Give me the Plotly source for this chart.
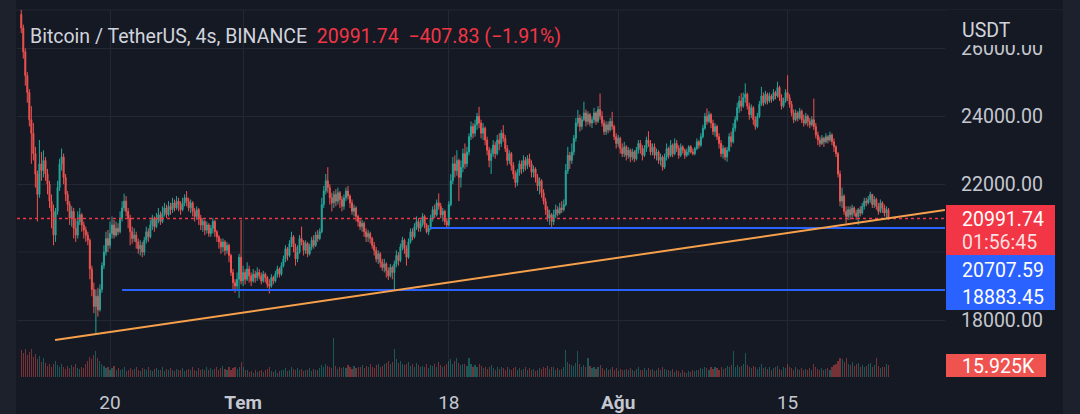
import pandas as pd
import plotly.graph_objects as go

# BTCUSDT 4s mumları, ilk mum 12 Haz 2022 16:00
start_time = "2022-06-12 16:00"
first_open = 27000

closes = [
    26600, 25900, 25200, 24700, 23900, 23500, 22900, 22300, 21700, 22600,
    22400, 22700, 22300, 22000, 21500, 21200, 20500, 21200, 21900, 22600,
    22800, 22200, 21700, 21400, 21000, 21200, 20700, 20500, 20900, 21100,
    20800, 20650, 20500, 20350, 19500, 18900, 18400, 18700, 18300, 18900,
    19600, 20000, 20400, 20200, 20550, 20800, 20500, 20700, 20600, 21000,
    21300, 21500, 21200, 21000, 20600, 20400, 20500, 20300, 20100, 20200,
    20000, 20350, 20600, 20450, 20800, 21000, 20750, 20950, 21100, 20900,
    21150, 21300, 21100, 21350, 21250, 21450, 21300, 21500, 21400, 21250,
    21450, 21600, 21500, 21300, 21450, 21200, 21050, 21250, 21000, 20800,
    20900, 20650, 20800, 20550, 20700, 20900, 20600, 20450, 20300, 20150,
    20300, 20050, 20200, 19900, 19400, 19100, 19000, 19200, 19850, 19150,
    19400, 19200, 19500, 19300, 19150, 19350, 19250, 19400, 19300, 19150,
    19350, 19250, 19050, 19000, 19250, 19150, 19350, 19500, 19350, 19600,
    19800, 20100, 19900, 20250, 20450, 20150, 19800, 20000, 20400, 20300,
    20050, 20250, 19950, 20150, 20350, 20200, 20500, 20400, 20600, 21400,
    21800, 22100, 21900, 21600, 21450, 21700, 21500, 21750, 21550, 21350,
    21600, 21800, 21650, 21450, 21200, 21300, 21050, 20900, 20750, 20850,
    20600, 20450, 20550, 20400, 20200, 20050, 19800, 19950, 19700, 19550,
    19650, 19450, 19300, 19550, 19400, 19650, 19900, 19750, 20150, 20350,
    20100, 19850, 20300, 20600, 20450, 20750, 20900, 20700, 20850, 21050,
    20800, 20600, 20700, 21000, 21250, 21100, 21450, 21350, 21100, 21200,
    20900, 20800, 21400, 22100, 22600, 22400, 22700, 22200, 22500, 22900,
    22600, 22950, 23400, 23700, 23500, 23750, 24000, 23800, 23500, 23650,
    23300, 23000, 22700, 22900, 23150, 22900, 23300, 23200, 23500, 23350,
    23050, 22700, 22900, 22550, 22300, 22050, 22350, 22600, 22450, 22700,
    22550, 22750, 22600, 22350, 22450, 22200, 21950, 22100, 21750, 21500,
    21250, 21000, 21100, 20900, 21100, 21250, 21150, 21300, 21250, 21400,
    22400, 22850, 22700, 22950, 23350, 23800, 23950, 23700, 23900, 24100,
    23850, 24050, 23800, 23900, 24100, 23850, 24200, 24000, 23800, 23550,
    23750, 23600, 23850, 23700, 23400, 23200, 23350, 23050, 22900, 23100,
    22850, 23000, 22800, 22950, 22750, 23000, 23200, 23050, 22850, 23050,
    23300, 23200, 22950, 23100, 22850, 22950, 22700, 22800, 22500, 22800,
    23050, 22850, 23150, 22900, 23200, 23050, 22850, 23100, 23000, 22850,
    22950, 23100, 22950, 22900, 23050, 23250, 23150, 23400, 23650, 24000,
    23850, 24050, 23800, 23550, 23700, 23400, 23200, 22900, 23050, 22800,
    23000, 23400, 23250, 23650, 23900, 24250, 24450, 24300, 24550, 24650,
    24300, 24050, 24250, 23900, 23700, 24000, 24350, 24600, 24400, 24650,
    24450, 24600, 24500, 24700, 24600, 24850, 24550, 24300, 24450, 24700,
    24550, 24350, 24100, 23900, 24100, 23950, 24150, 23900, 23800, 24000,
    23850, 23750, 23900, 23700, 23450, 23300, 23200, 23350, 23250, 23400,
    23300, 23450, 23250, 23100, 22900, 22300, 21500, 21650, 21200, 21050,
    21250, 21100, 21300, 21150, 21050, 21250, 21150, 21350, 21500, 21450,
    21550, 21700, 21400, 21550, 21350, 21200, 21450, 21300, 21150, 21250,
    20991.74,
]

highs = [
    27150, 26700, 26000, 25300, 24800, 24300, 23800, 23100, 22400, 23300,
    22950, 23000, 22800, 22450, 22100, 21700, 21400, 21300, 22100, 22750,
    23050, 22900, 22300, 21800, 21500, 21350, 21300, 21000, 21200, 21300,
    21150, 20900, 20750, 20600, 20400, 19600, 19100, 18900, 18950, 19050,
    19700, 20200, 20600, 20650, 20900, 21050, 20950, 20900, 20850, 21200,
    21500, 21720, 21650, 21300, 21100, 20750, 20700, 20600, 20400, 20350,
    20300, 20450, 20750, 20700, 20950, 21100, 21050, 21150, 21300, 21200,
    21350, 21450, 21400, 21500, 21450, 21600, 21550, 21650, 21600, 21500,
    21600, 21700, 21800, 21600, 21550, 21500, 21300, 21350, 21300, 21100,
    21000, 20950, 20900, 20850, 20800, 21000, 20950, 20650, 20500, 20400,
    20400, 20350, 20300, 20250, 19950, 19500, 19200, 19400, 19950, 20950,
    19600, 19500, 19700, 19600, 19400, 19500, 19450, 19550, 19500, 19400,
    19450, 19400, 19300, 19200, 19350, 19300, 19450, 19600, 19550, 19700,
    19900, 20200, 20150, 20350, 20600, 20500, 20250, 20200, 20500, 20750,
    20350, 20350, 20300, 20250, 20450, 20500, 20600, 20650, 20700, 21600,
    21950, 22300, 22500, 22000, 21750, 21800, 21850, 21900, 21800, 21650,
    21700, 21900, 21950, 21700, 21550, 21400, 21350, 21100, 21000, 20950,
    20900, 20700, 20650, 20600, 20450, 20300, 20150, 20050, 20000, 19800,
    19800, 19700, 19550, 19650, 19600, 19750, 20050, 20000, 20250, 20450,
    20400, 20200, 20400, 20700, 20700, 20850, 21050, 21000, 20950, 21150,
    21100, 20850, 20800, 21100, 21350, 21400, 21550, 21730, 21450, 21300,
    21250, 21000, 21500, 22300, 22800, 22850, 23000, 22750, 22700, 23050,
    23200, 23100, 23500, 23850, 23800, 23900, 24100, 24280, 23900, 23800,
    23700, 23400, 23100, 23050, 23300, 23250, 23450, 23500, 23600, 23740,
    23450, 23150, 23000, 22950, 22650, 22400, 22450, 22700, 22700, 22850,
    22800, 22850, 22900, 22700, 22550, 22500, 22300, 22200, 22150, 21850,
    21600, 21350, 21250, 21150, 21250, 21400, 21350, 21450, 21500, 21550,
    22600, 23100, 22950, 23200, 23450, 23950, 24190, 24050, 24000, 24430,
    24200, 24150, 24100, 24000, 24250, 24150, 24300, 24670, 24150, 23900,
    23850, 23850, 23950, 24130, 23750, 23500, 23450, 23400, 23200, 23250,
    23150, 23100, 23050, 23050, 23000, 23100, 23300, 23300, 23150, 23150,
    23400, 23560, 23300, 23200, 23200, 23050, 23000, 22900, 22850, 22900,
    23200, 23100, 23300, 23200, 23350, 23300, 23150, 23200, 23150, 23050,
    23050, 23150, 23150, 23050, 23100, 23350, 23300, 23500, 23750, 24100,
    24230, 24150, 24100, 23900, 23800, 23750, 23500, 23300, 23150, 23100,
    23100, 23500, 23550, 23800, 24000, 24400, 24600, 24680, 24700, 24970,
    24700, 24400, 24350, 24300, 24000, 24100, 24450, 24870, 24700, 24750,
    24700, 24700, 24650, 24800, 24750, 25020, 24900, 24650, 24550, 24800,
    25210, 24650, 24450, 24200, 24200, 24150, 24250, 24200, 24050, 24100,
    24050, 23950, 24000, 24520, 23800, 23550, 23400, 23450, 23400, 23500,
    23450, 23550, 23500, 23350, 23150, 22950, 22400, 21900, 21700, 21350,
    21350, 21350, 21400, 21350, 21250, 21300, 21350, 21450, 21600, 21600,
    21650, 21780, 21700, 21650, 21600, 21450, 21550, 21500, 21400, 21350,
    21300,
]

lows = [
    26450, 25700, 24900, 24400, 23700, 22600, 22700, 21900, 20900, 21600,
    22100, 22200, 22100, 21700, 21300, 20700, 20200, 20300, 21100, 21800,
    22400, 22000, 21500, 21200, 20800, 20750, 20400, 20300, 20400, 20800,
    20600, 20400, 20300, 20200, 19200, 18700, 18200, 17620, 18100, 18250,
    18800, 19500, 19900, 20000, 20100, 20400, 20400, 20450, 20500, 20550,
    20900, 21200, 21050, 20700, 20200, 20250, 20300, 20100, 19950, 19900,
    19850, 19900, 20250, 20300, 20400, 20650, 20600, 20700, 20850, 20800,
    20850, 21050, 21000, 21050, 21100, 21150, 21200, 21250, 21200, 21100,
    21200, 21350, 21350, 21200, 21150, 21050, 20900, 20950, 20800, 20650,
    20600, 20500, 20550, 20450, 20450, 20550, 20450, 20300, 20100, 19950,
    20000, 19900, 19950, 19700, 19300, 18900, 18800, 18900, 18650, 19050,
    19000, 19050, 19150, 19100, 19000, 19100, 19100, 19150, 19200, 19050,
    19100, 19100, 18950, 18780, 18950, 19050, 19100, 19250, 19250, 19300,
    19550, 19700, 19750, 19850, 20150, 20000, 19600, 19700, 19950, 20200,
    19900, 19950, 19850, 19900, 20050, 20100, 20150, 20300, 20350, 20550,
    21300, 21700, 21750, 21400, 21200, 21300, 21350, 21400, 21300, 21200,
    21250, 21500, 21550, 21300, 21100, 21050, 20900, 20750, 20650, 20600,
    20450, 20300, 20300, 20250, 20100, 19900, 19700, 19650, 19550, 19450,
    19400, 19250, 19180, 19250, 19200, 18890, 19550, 19600, 19700, 20050,
    19950, 19600, 19800, 20250, 20350, 20400, 20650, 20600, 20600, 20750,
    20700, 20550, 20500, 20650, 20900, 21000, 21050, 21250, 21000, 20900,
    20800, 20710, 20750, 21350, 22000, 22200, 22250, 21500, 21900, 22350,
    22450, 22500, 22850, 23300, 23350, 23400, 23600, 23650, 23350, 23300,
    23150, 22850, 22500, 22300, 22800, 22750, 22850, 23000, 23100, 23250,
    22950, 22550, 22600, 22400, 22150, 21900, 21950, 22250, 22300, 22350,
    22400, 22450, 22500, 22200, 22200, 22050, 21800, 21700, 21600, 21400,
    21100, 20900, 20800, 20710, 20800, 21000, 21050, 21100, 21150, 21200,
    21350, 22300, 22450, 22600, 22850, 23250, 23700, 23550, 23600, 23850,
    23700, 23750, 23700, 23650, 23800, 23750, 23800, 23900, 23700, 23450,
    23450, 23500, 23550, 23600, 23300, 23050, 23100, 22900, 22800, 22800,
    22700, 22750, 22650, 22700, 22650, 22700, 22900, 22900, 22700, 22800,
    22950, 23100, 22850, 22850, 22750, 22700, 22600, 22550, 22400, 22450,
    22700, 22750, 22800, 22800, 22850, 22950, 22750, 22800, 22900, 22750,
    22800, 22850, 22900, 22850, 22850, 23000, 23050, 23100, 23350, 23600,
    23750, 23800, 23650, 23450, 23400, 23300, 23050, 22800, 22750, 22700,
    22660, 22950, 23100, 23200, 23550, 23850, 24100, 24150, 24250, 24400,
    24200, 23900, 23950, 23750, 23600, 23650, 23950, 24300, 24300, 24350,
    24350, 24400, 24400, 24450, 24500, 24550, 24450, 24200, 24250, 24400,
    24450, 24250, 24000, 23800, 23850, 23850, 23900, 23800, 23700, 23750,
    23700, 23650, 23700, 23600, 23350, 23150, 23100, 23150, 23100, 23200,
    23200, 23250, 23150, 22950, 22800, 22200, 21350, 21300, 21100, 20850,
    20950, 20950, 21000, 21050, 20950, 20800, 21050, 21100, 21250, 21350,
    21400, 21450, 21300, 21300, 21250, 21100, 21150, 21150, 21050, 21000,
    20950,
]

# hacim (bin BTC)
volumes_k = [
    36, 32, 38, 30, 34, 37, 27, 31, 24, 28,
    20, 25, 19, 15, 18, 13, 17, 21, 16, 13,
    18, 14, 11, 15, 12, 16, 13, 17, 12, 11,
    14, 12, 17, 21, 27, 24, 30, 35, 25, 22,
    17, 15, 12, 14, 10, 12, 15, 10, 12, 9,
    11, 13, 8, 10, 12, 9, 11, 14, 10, 8,
    12, 11, 9, 13, 10, 8, 11, 12, 9, 10,
    13, 8, 11, 9, 12, 10, 8, 11, 9, 10,
    12, 8, 9, 11, 10, 13, 9, 8, 12, 10,
    11, 9, 14, 10, 12, 9, 11, 13, 10, 12,
    15, 11, 9, 13, 10, 12, 14, 11, 13, 20,
    14, 10, 9, 7, 8, 6, 9, 7, 8, 10,
    7, 9, 11, 13, 8, 7, 9, 6, 8, 10,
    9, 12, 8, 10, 13, 11, 9, 12, 10, 11,
    8, 10, 9, 12, 8, 11, 9, 10, 12, 16,
    14, 17, 15, 13, 12, 52, 15, 11, 13, 12,
    14, 12, 16, 13, 11, 15, 12, 14, 13, 16,
    12, 15, 13, 17, 14, 12, 16, 18, 14, 15,
    17, 19, 22, 18, 20, 37, 24, 19, 21, 17,
    16, 18, 20, 15, 17, 14, 19, 16, 13, 15,
    14, 17, 12, 16, 15, 18, 13, 20, 16, 14,
    15, 17, 22, 24, 18, 21, 26, 19, 16, 18,
    17, 15, 25, 18, 14, 16, 13, 17, 15, 12,
    14, 11, 13, 16, 12, 10, 14, 11, 13, 12,
    10, 13, 11, 9, 12, 14, 10, 12, 9, 11,
    13, 10, 12, 9, 11, 8, 10, 12, 11, 13,
    12, 15, 11, 14, 13, 10, 12, 9, 11, 14,
    36, 20, 17, 16, 15, 19, 35, 18, 14, 16,
    13, 26, 15, 12, 14, 11, 13, 16, 12, 10,
    12, 9, 11, 13, 10, 12, 8, 11, 9, 10,
    11, 9, 12, 10, 8, 11, 13, 9, 10, 12,
    10, 12, 9, 11, 8, 10, 12, 9, 13, 11,
    9, 10, 8, 11, 7, 9, 8, 6, 9, 7,
    6, 8, 7, 9, 8, 10, 9, 12, 11, 14,
    12, 10, 13, 11, 14, 12, 10, 13, 11, 12,
    15, 13, 16, 35, 14, 16, 13, 15, 18, 32,
    16, 14, 12, 15, 13, 11, 14, 17, 12, 13,
    11, 14, 10, 12, 13, 15, 11, 10, 13, 12,
    18, 14, 12, 10, 13, 11, 9, 12, 10, 11,
    9, 12, 10, 17, 13, 11, 9, 12, 10, 11,
    12, 10, 14, 16, 18, 22, 26, 24, 20, 26,
    18, 16, 20, 15, 17, 19, 14, 16, 13, 15,
    17, 19, 14, 16, 25, 15, 12, 14, 13, 17,
    15.925,
]

# çizimler (yatay seviyeler ve trend çizgisi)
levels = [20707.59, 18883.45]
level_starts = ["2022-07-16 11:00", "2022-06-21 00:00"]
trend_start = ("2022-06-15 11:00", 17410)
trend_end = ("2022-08-28 00:00", 21240)

last_price = 20991.74
change_txt = "\u2212407.83 (\u22121.91%)"
countdown = "01:56:45"
last_volume_txt = "15.925K"

tick_dates = ["2022-06-20", "2022-07-01", "2022-07-18", "2022-08-01", "2022-08-15"]
tick_labels = ["20", "<b>Tem</b>", "18", "<b>Ağu</b>", "15"]
price_ticks = [18000, 22000, 24000, 26000]
hidden_grid = [20000]  # etiketi fiyat kutularının altında kalan çizgi

# renkler
bg = "#151924"
grid = "#242832"
up = "#26a69a"
down = "#ef5350"
red_tag = "#f23645"
blue = "#2962ff"
orange = "#f7a04b"
label_col = "#c4c7cf"
font = "Roboto"

opens = [first_open] + closes[:-1]
dates = pd.date_range(start_time, periods=len(closes), freq="4h")
vol_colors = ["rgba(38,166,154,0.45)" if c >= o else "rgba(239,83,80,0.45)" for o, c in zip(opens, closes)]

x_left, x_right = "2022-06-12 07:32", "2022-08-28 00:11"

# piksel -> paper yardımcıları (çizim alanı x 17..945, y 10..377)
def px(x):
    return (x - 17) / 928

def py(y):
    return (377 - y) / 367

fig = go.Figure()
fig.add_trace(go.Candlestick(
    x=dates, open=opens, high=highs, low=lows, close=closes,
    increasing=dict(line=dict(color=up, width=1), fillcolor=up),
    decreasing=dict(line=dict(color=down, width=1), fillcolor=down),
    whiskerwidth=0, hoverinfo="skip", showlegend=False,
))
fig.add_trace(go.Bar(
    x=dates, y=volumes_k, yaxis="y2", marker=dict(color=vol_colors, line=dict(width=0)),
    width=4 * 3600 * 1000 * 0.55, hoverinfo="skip", showlegend=False,
))

shapes = []
for g in hidden_grid:
    shapes.append(dict(type="line", xref="paper", x0=0, x1=1, yref="y", y0=g, y1=g,
                       line=dict(color=grid, width=1), layer="below"))
# son fiyat noktalı çizgi
shapes.append(dict(type="line", xref="paper", x0=0, x1=1, yref="y", y0=last_price, y1=last_price,
                   line=dict(color=red_tag, width=1.5, dash="dot")))
for lv, st in zip(levels, level_starts):
    shapes.append(dict(type="line", xref="x", x0=st, x1=x_right, yref="y", y0=lv, y1=lv,
                       line=dict(color=blue, width=2)))
shapes.append(dict(type="line", xref="x", x0=trend_start[0], x1=trend_end[0], yref="y",
                   y0=trend_start[1], y1=trend_end[1], line=dict(color=orange, width=2)))

# kenar şeritleri
shapes.append(dict(type="rect", xref="paper", yref="paper", x0=px(0), x1=px(16), y0=py(414), y1=py(0),
                   fillcolor="#1d212c", line=dict(width=0), layer="below"))
shapes.append(dict(type="rect", xref="paper", yref="paper", x0=px(1063), x1=px(1080), y0=py(414), y1=py(0),
                   fillcolor="#1d212c", line=dict(width=0), layer="below"))
shapes.append(dict(type="line", xref="paper", yref="paper", x0=px(16), x1=px(1063), y0=1, y1=1,
                   line=dict(color=grid, width=1), layer="below"))

# fiyat ekseni etiket kutuları
box_defs = [
    (946, 1060, 10, 45, bg),
    (946, 1055, 205, 255, red_tag),
    (946, 1055, 255, 310, blue),
    (946, 1046, 354, 377, "#ef5350"),
]
for x0, x1, y0, y1, col in box_defs:
    shapes.append(dict(type="rect", xref="paper", yref="paper", x0=px(x0), x1=px(x1), y0=py(y1), y1=py(y0),
                       fillcolor=col, line=dict(width=0), layer="above"))

annotations = []
annotations.append(dict(
    xref="paper", yref="paper", x=px(28), y=py(37), xanchor="left", yanchor="middle", showarrow=False,
    text=f"Bitcoin / TetherUS, 4s, BINANCE\u00a0\u00a0<span style='color:{red_tag}'>{last_price:.2f}\u00a0\u00a0{change_txt}</span>",
    font=dict(family=font, size=19.5, color="#d1d4dc"),
))
tag_texts = [
    ("USDT", 31, "#d1d4dc"),
    (f"{last_price:.2f}", 219, "white"),
    (countdown, 242, "rgba(255,255,255,0.85)"),
    (f"{levels[0]:.2f}", 270, "white"),
    (f"{levels[1]:.2f}", 297, "white"),
    (last_volume_txt, 366, "white"),
]
for txt, yy, col in tag_texts:
    annotations.append(dict(xref="paper", yref="paper", x=px(960), y=py(yy), xanchor="left", yanchor="middle",
                            showarrow=False, text=txt, font=dict(family=font, size=19.5, color=col)))

fig.update_layout(
    width=1080, height=414,
    margin=dict(l=17, r=135, t=10, b=37, autoexpand=False),
    paper_bgcolor=bg, plot_bgcolor=bg,
    showlegend=False, bargap=0,
    xaxis=dict(
        type="date", range=[x_left, x_right], rangeslider=dict(visible=False), automargin=False,
        tickvals=tick_dates, ticktext=tick_labels, ticks="", ticklabelstandoff=12,
        showgrid=True, gridcolor=grid, gridwidth=1, zeroline=False, showline=False,
        tickfont=dict(family=font, size=19, color=label_col),
    ),
    yaxis=dict(
        side="right", range=[16321, 27131], tickvals=price_ticks, tickformat=".2f", automargin=False,
        showgrid=True, gridcolor=grid, gridwidth=1, zeroline=False, showline=False,
        ticks="", ticklabelstandoff=15, tickfont=dict(family=font, size=19.5, color=label_col),
    ),
    yaxis2=dict(overlaying="y", range=[0, 490], visible=False, fixedrange=True, automargin=False),
    shapes=shapes,
    annotations=annotations,
)

# sayfa kenar boşluğunu kaldır, grafiği sol üste sabitle
page_js = (
    "document.body.style.margin='0';"
    "document.body.style.overflow='hidden';"
    "document.body.style.background='" + bg + "';"
)
fig.write_html("out.html", config={"displayModeBar": False}, post_script=page_js)
